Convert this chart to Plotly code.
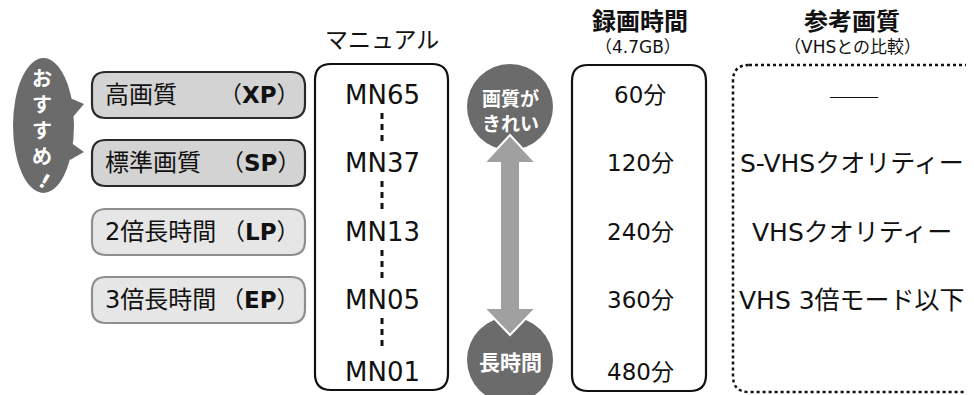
import plotly.graph_objects as go

# ---- data ----
mode_names = ["高画質", "標準画質", "2倍長時間", "3倍長時間"]
mode_codes = ["XP", "SP", "LP", "EP"]
recommended = [True, True, False, False]
manual_values = ["MN65", "MN37", "MN13", "MN05", "MN01"]
rec_times = ["60分", "120分", "240分", "360分", "480分"]
quality_labels = ["――", "S-VHSクオリティー", "VHSクオリティー", "VHS 3倍モード以下"]
bubble_text = ["お", "す", "す", "め"]
bubble_mark = "!"
header_manual = "マニュアル"
header_time = ["録画時間", "（4.7GB）"]
header_quality = ["参考画質", "（VHSとの比較）"]
arrow_top = ["画質が", "きれい"]
arrow_bottom = "長時間"

W, H = 974, 395
OFF = 8  # page body margin compensation
FONT = "DejaVu Sans, Noto Sans CJK JP"
CJK = "Noto Sans CJK JP"
row_y = [95, 163, 232, 300, 370]

def rrect(x0, y0, x1, y1, r):
    return (f"M {x0+r},{y0} L {x1-r},{y0} Q {x1},{y0} {x1},{y0+r} "
            f"L {x1},{y1-r} Q {x1},{y1} {x1-r},{y1} L {x0+r},{y1} "
            f"Q {x0},{y1} {x0},{y1-r} L {x0},{y0+r} Q {x0},{y0} {x0+r},{y0} Z")

shapes = []
annots = []

def txt(x, y, s, size=22, color="#111", bold=False, xanchor="center", angle=0, family=FONT):
    if bold:
        s = f"<b>{s}</b>"
    annots.append(dict(x=x, y=y, text=s, showarrow=False, xref="x", yref="y",
                       xanchor=xanchor, yanchor="middle", textangle=angle,
                       font=dict(family=family, size=size, color=color)))

# speech bubble
shapes.append(dict(type="path", path="M 70,98 L 84,104 L 72,118 Z",
                   fillcolor="#6b6b6b", line=dict(width=0)))
shapes.append(dict(type="path", path="M 70,142 L 84,152 L 70,160 Z",
                   fillcolor="#6b6b6b", line=dict(width=0)))
shapes.append(dict(type="circle", x0=13, x1=74, y0=58, y1=193,
                   fillcolor="#6b6b6b", line=dict(width=0)))
txt(42, 118, "<br>".join(bubble_text), size=20, color="white", bold=True)
txt(44, 181, bubble_mark, size=20, color="white", bold=True, angle=30)

# mode pills
for i, (nm, cd, rc) in enumerate(zip(mode_names, mode_codes, recommended)):
    y = row_y[i]
    shapes.append(dict(type="path", path=rrect(92, y - 23, 305, y + 23, 14),
                       fillcolor="#d3d3d3" if rc else "#e6e6e6",
                       line=dict(color="#2a2a2a" if rc else "#8f8f8f", width=2.2)))
    txt(103, y, nm, size=24, xanchor="left")
    txt(302, y, f"（<b>{cd}</b>）", size=23, xanchor="right")

# manual box
txt(382, 40, header_manual, size=23)
shapes.append(dict(type="path", path=rrect(315, 64, 448, 390, 16),
                   fillcolor="white", line=dict(color="#111", width=2.2)))
for i, v in enumerate(manual_values):
    txt(382, row_y[i] + (2 if i == 4 else 0), v, size=26)
for i in range(4):
    y0 = row_y[i] + 18
    y1 = row_y[i + 1] - 20
    shapes.append(dict(type="line", x0=382, x1=382, y0=y0, y1=y1,
                       line=dict(color="#111", width=3, dash="6px,5px")))

# circles + arrow
shapes.append(dict(type="circle", x0=467, x1=553, y0=64, y1=150,
                   fillcolor="#6b6b6b", line=dict(width=0)))
shapes.append(dict(type="circle", x0=467, x1=553, y0=317, y1=403,
                   fillcolor="#6b6b6b", line=dict(width=0)))
shapes.append(dict(type="path",
                   path="M 510,135 L 536,163 L 520,163 L 520,308 L 536,308 L 510,335 "
                        "L 484,308 L 500,308 L 500,163 L 484,163 Z",
                   fillcolor="#a0a0a0", line=dict(color="white", width=2)))
txt(510, 111, "<br>".join(arrow_top), size=19, color="white", bold=True)
txt(510, 363, arrow_bottom, size=21, color="white", bold=True)

# recording time box
txt(640, 22, header_time[0], size=24, bold=True)
txt(638, 47, header_time[1], size=17)
shapes.append(dict(type="path", path=rrect(572, 65, 706, 391, 16),
                   fillcolor="white", line=dict(color="#111", width=2.2)))
for i, v in enumerate(rec_times):
    txt(640, row_y[i] + (2 if i == 4 else 0), v, size=23)

# quality box
txt(852, 22, header_quality[0], size=24, bold=True)
txt(852, 47, header_quality[1], size=17)
shapes.append(dict(type="path", path=rrect(733, 65, 990, 392, 16),
                   fillcolor="rgba(0,0,0,0)", line=dict(color="#111", width=2.5, dash="dot")))
for i, v in enumerate(quality_labels):
    if i == 0:
        txt(854, row_y[i], v, size=26, family=CJK)
    else:
        txt(852, row_y[i], v, size=25)

fig = go.Figure()
fig.update_layout(
    width=W, height=H, margin=dict(l=0, r=0, t=0, b=0),
    paper_bgcolor="white", plot_bgcolor="white",
    xaxis=dict(range=[OFF, W + OFF], visible=False, fixedrange=True),
    yaxis=dict(range=[H + OFF, OFF], visible=False, fixedrange=True),
    shapes=shapes, annotations=annots, showlegend=False,
)
fig.write_html("out.html")
